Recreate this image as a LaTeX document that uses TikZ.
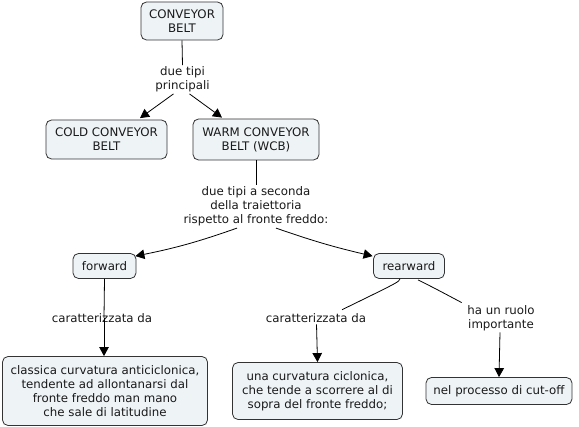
\documentclass[tikz,border=0pt]{standalone}
\usepackage{fontspec}
\setmainfont{DejaVu Sans}
\usetikzlibrary{arrows.meta,calc}
\definecolor{boxfill}{HTML}{EEF3F6}
\definecolor{boxdraw}{HTML}{333333}
\definecolor{txt}{HTML}{1A1A1A}
\begin{document}
\begin{tikzpicture}[x=1pt,y=-1pt,
  font=\fontsize{11.8}{14}\selectfont,
  concept/.style={draw=boxdraw,fill=boxfill,rounded corners=5.5pt,line width=0.8pt,align=center,inner sep=0pt,text=txt},
  linklab/.style={align=center,inner sep=1.5pt,text=txt},
  conn/.style={line width=0.8pt,draw=black},
  arr/.style={conn,-{Triangle[length=9pt,width=9.5pt]}}
]
\useasboundingbox[fill=white] (0,0) rectangle (579,427);
% concepts
\node[concept,minimum width=82pt,minimum height=38pt] (cb) at (182,21) {CONVEYOR\\BELT};
\node[concept,minimum width=121pt,minimum height=39pt] (cold) at (106.5,139.5) {COLD CONVEYOR\\BELT};
\node[concept,minimum width=126pt,minimum height=41pt] (warm) at (256,139.5) {WARM CONVEYOR\\BELT (WCB)};
\node[concept,minimum width=63pt,minimum height=25pt] (fwd) at (104.5,266) {forward};
\node[concept,minimum width=71pt,minimum height=25pt] (rear) at (409,266) {rearward};
\node[concept,minimum width=205pt,minimum height=69pt] (b1) at (105,391) {classica curvatura anticiclonica,\\tendente ad allontanarsi dal\\fronte freddo man mano\\che sale di latitudine};
\node[concept,minimum width=170pt,minimum height=57pt] (b2) at (317.5,391) {una curvatura ciclonica,\\che tende a scorrere al di\\sopra del fronte freddo;};
\node[concept,minimum width=146pt,minimum height=27pt] (b3) at (499,391) {nel processo di cut-off};
% link labels
\node[linklab] (l1) at (182.5,79.5) {due tipi\\principali};
\node[linklab] (l2) at (256,206.7) {due tipi a seconda\\della traiettoria\\rispetto al fronte freddo:};
\node[linklab] (l3) at (102,318) {caratterizzata da};
\node[linklab] (l4) at (316,318) {caratterizzata da};
\node[linklab] (l5) at (501,318) {ha un ruolo\\importante};
% connectors
\draw[conn] (cb.south) -- (l1.north);
\draw[arr] ($(l1.south)+(-9,0)$) -- ($(cold.north)+(33.5,-1.5)$);
\draw[arr] ($(l1.south)+(7,0)$) -- ($(warm.north)+(-34,-1)$);
\draw[conn] (warm.south) -- (l2.north);
\draw[arr] ($(l2.south)+(-19,0)$) to[bend left=4] ($(fwd.north east)+(-1,3)$);
\draw[arr] ($(l2.south)+(20,0)$) to[bend right=3] ($(rear.north west)+(-0.5,3)$);
\draw[conn] (fwd.south) -- ($(fwd.south |- l3.center)+(-0.5,0)$);
\draw[arr] ($(fwd.south |- l3.center)+(-0.5,0)$) -- ($(fwd.south |- b1.north)+(-0.5,0)$);
\draw[conn] ($(rear.south)+(-9,0)$) .. controls ($(rear.south)+(-10,3)$) .. ($(l4.north)+(26,-2)$);
\draw[arr] ($(l4.south)+(0.5,0)$) -- (b2.north);
\draw[conn] ($(rear.south)+(9,1)$) .. controls ($(rear.south)+(25,9)$) .. ($(l5.north west)+(-4,-1)$);
\draw[arr] ($(l5.south)+(-1,0)$) -- (b3.north);
\end{tikzpicture}
\end{document}
